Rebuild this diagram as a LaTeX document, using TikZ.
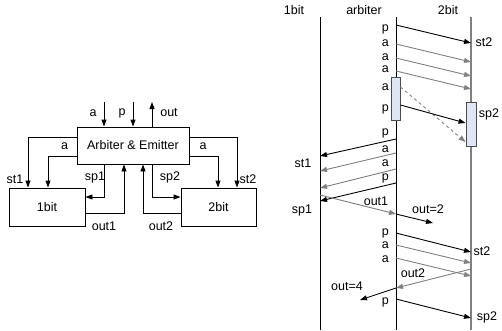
\documentclass[tikz,border=0pt]{standalone}
\usepackage{fontspec}
\setmainfont{Liberation Sans}
\usetikzlibrary{arrows.meta}
\definecolor{msggray}{RGB}{128,128,128}
\definecolor{actfill}{RGB}{222,230,244}
\tikzset{
  box/.style={draw=black, line width=0.9pt, inner sep=0pt, font=\fontsize{12.5}{14}\selectfont},
  lbl/.style={inner sep=0pt, font=\fontsize{12.5}{14}\selectfont},
  rlbl/.style={lbl, anchor=east},
  arr/.style={line width=0.9pt, -{Triangle[length=7pt,width=5pt]}},
  blk/.style={line width=0.9pt, black, -{Triangle[length=7pt,width=5pt]}},
  gry/.style={line width=0.9pt, msggray, -{Triangle[length=7pt,width=5pt]}},
  life/.style={line width=0.9pt, black},
  actbox/.style={draw=black!70, line width=0.9pt, fill=actfill}
}
\begin{document}
\begin{tikzpicture}[x=1pt,y=-1pt]
\useasboundingbox (0,0) rectangle (502,330);
% ---------- left block diagram ----------
\node[box, minimum width=112pt, minimum height=37pt] (arb) at (133,145.5) {Arbiter \& Emitter};
\node[box, minimum width=76pt, minimum height=38pt] (b1) at (47,207) {1bit};
\node[box, minimum width=75pt, minimum height=38pt] (b2) at (218.5,207) {2bit};
\coordinate (ain) at (104,102);
\coordinate (pin) at (133,102);
\coordinate (oout) at (152,102);
\draw[arr] (ain) -- (ain |- arb.north);
\draw[arr] (pin) -- (pin |- arb.north);
\draw[arr] (oout |- arb.north) -- (oout);
\draw[arr] (arb.west |- 0,137) -| (b1.north -| 28,0);
\draw[arr] (arb.west |- 0,156) -| (b1.north -| 48,0);
\draw[arr] (arb.south -| 104,0) |- (b1.east |- 0,197);
\draw[arr] (b1.east |- 0,213) -| (arb.south -| 124,0);
\draw[arr] (b2.west |- 0,213) -| (arb.south -| 143,0);
\draw[arr] (arb.south -| 152,0) |- (b2.west |- 0,197);
\draw[arr] (arb.east |- 0,156) -| (b2.north -| 218,0);
\draw[arr] (arb.east |- 0,137) -| (b2.north -| 237,0);
\node[lbl] (la1) at (93,113) {a};
\node[lbl] (lp1) at (122,113) {p};
\node[lbl] (lout) at (169,113) {out};
\node[lbl] (lst1) at (15,179) {st1};
\node[lbl] (la2) at (64.5,146) {a};
\node[lbl] (lsp1) at (95,177) {sp1};
\node[lbl] (lout1) at (104,226) {out1};
\node[lbl] (lout2) at (161,226) {out2};
\node[lbl] (lsp2) at (170,177) {sp2};
\node[lbl] (la3) at (203,146) {a};
\node[lbl] (lst2) at (248,179) {st2};
% ---------- right sequence diagram ----------
\node[lbl] (h1) at (294,10) {1bit};
\node[lbl] (ha) at (364,10) {arbiter};
\node[lbl] (h2) at (448,10) {2bit};
\coordinate (t1) at (320,17); \coordinate (e1) at (320,330);
\coordinate (ta) at (396,17); \coordinate (ea) at (396,330);
\coordinate (t2) at (471,17); \coordinate (e2) at (471,330);
\draw[life] (t1) -- (e1);
\draw[life] (ta) -- (ea);
\draw[line width=1.8pt, msggray] (t2) -- (e2);
\node[actbox, minimum width=9pt, minimum height=43pt, inner sep=0pt] (act1) at (395.5,98.5) {};
\node[actbox, minimum width=10pt, minimum height=44pt, inner sep=0pt] (act2) at (471,124) {};
% messages
\draw[blk] (396,25) -- (471,43);
\draw[gry] (396,44) -- (471,62);
\draw[gry] (396,58) -- (471,76);
\draw[gry] (396,71) -- (471,89);
\draw[gry, dashed] (act1.east |- 0,87) -- (act2.west |- 0,142);
\draw[blk] (act1.east |- 0,105) -- (act2.west |- 0,123);
\draw[blk] (396,139) -- (320,156);
\draw[gry] (396,153) -- (320,171);
\draw[gry] (396,169) -- (320,188);
\draw[blk] (396,183) -- (320,201);
\draw[gry] (320,195) -- (396,214);
\coordinate (o2) at (433,223);
\draw[blk] (396,214) -- (o2);
\draw[blk] (396,233) -- (471,252);
\draw[gry] (396,245) -- (471,263);
\draw[gry] (396,258) -- (471,276);
\draw[gry] (471,269) -- (396,288);
\coordinate (o4) at (360,300);
\draw[blk] (396,288) -- (o4);
\draw[blk] (396,299) -- (471,318);
% message labels
\node[rlbl] (m1) at (389,29) {p};
\node[rlbl] (m2) at (389,43) {a};
\node[rlbl] (m3) at (389,57) {a};
\node[rlbl] (m4) at (389,69) {a};
\node[rlbl] (m5) at (389,87) {a};
\node[rlbl] (m6) at (389,109) {p};
\node[rlbl] (m7) at (389,133) {p};
\node[rlbl] (m8) at (389,149) {a};
\node[rlbl] (m9) at (389,163) {a};
\node[rlbl] (m10) at (389,178) {p};
\node[rlbl] (m11) at (389,233) {p};
\node[rlbl] (m12) at (389,245) {a};
\node[rlbl] (m13) at (389,259) {a};
\node[rlbl] (m14) at (389,302) {p};
\node[lbl] (s1) at (484,42) {st2};
\node[lbl] (s2) at (489,114) {sp2};
\node[lbl] (s3) at (303,163) {st1};
\node[lbl] (s4) at (302,210) {sp1};
\node[lbl] (s5) at (376,201) {out1};
\node[lbl] (s6) at (428,209) {out=2};
\node[lbl] (s7) at (482,251) {st2};
\node[lbl] (s8) at (413,273) {out2};
\node[lbl] (s9) at (347,286) {out=4};
\node[lbl] (s10) at (487,317) {sp2};
\end{tikzpicture}
\end{document}
